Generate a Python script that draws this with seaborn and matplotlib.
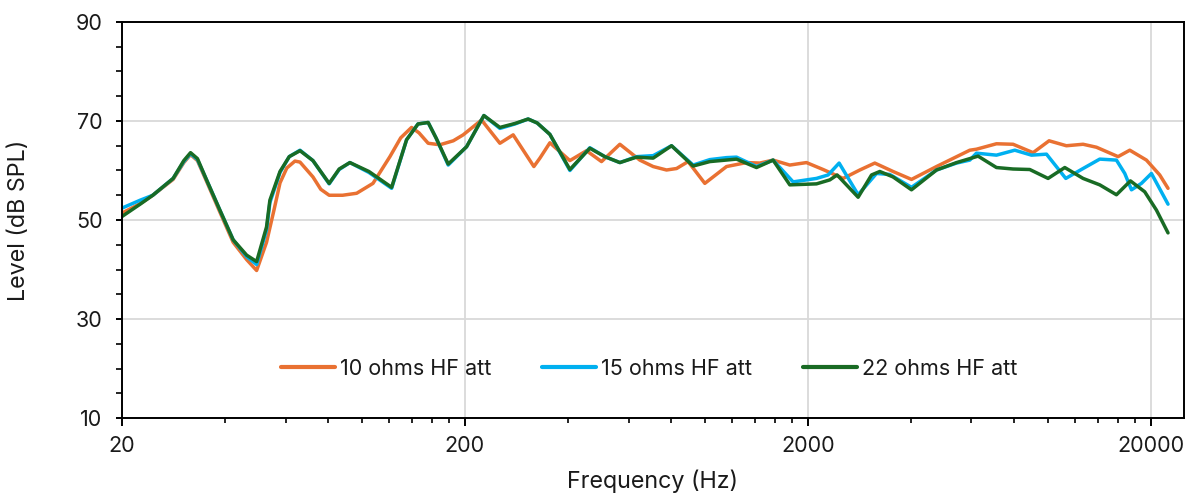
import numpy as np
import pandas as pd
import matplotlib
matplotlib.use("Agg")
import matplotlib.pyplot as plt
from matplotlib.ticker import FixedLocator, NullFormatter
from matplotlib.lines import Line2D
import seaborn as sns

# ---- data ----
series_names = ["10 ohms HF att", "15 ohms HF att", "22 ohms HF att"]

freq_10 = [20, 22.6, 24.6, 28.2, 30.3, 31.7, 33.2, 35.3, 38.6, 42.2, 46.2, 49.4, 52.8, 55.5, 57.8,
           60.5, 63.9, 66.1, 72.1, 76.0, 80.4, 88.0, 96.7, 107.9, 120.9, 130.0, 139.8, 147.0,
           156.3, 169.1, 185.0, 197.7, 223.7,
           253, 276.6, 317.8, 331, 353.9, 404.8, 452.6, 500.6, 566.2, 647.4, 708, 774.6,
           828.6, 895.4, 1001.6, 1158.8, 1325, 1449, 1584, 1772, 1982, 2216, 2535, 2836,
           3136, 3545, 4012, 4746, 5935, 6206, 7098, 7936, 9078, 10106, 11350, 12696,
           13890, 16060, 17374, 19430, 21243, 22460]
level_10 = [51.4, 53.3, 55.0, 58.2, 61.6, 63.2, 62.0, 57.8, 51.6, 45.5, 42.0, 39.8, 45.5, 52.0, 57.5,
            60.5, 61.9, 61.7, 58.7, 56.2, 55.0, 55.0, 55.4, 57.4, 62.8, 66.6, 68.7, 67.6,
            65.5, 65.2, 66.0, 67.2, 70.2,
            65.5, 67.2, 60.8, 62.5, 65.6, 62.0, 64.0, 61.8, 65.3, 62.1, 60.8, 60.1,
            60.4, 61.8, 57.4, 60.8, 61.6, 61.5, 62.1, 61.1, 61.6, 60.2, 58.4, 60.1,
            61.5, 59.8, 58.2, 60.8, 64.1, 64.3, 65.4, 65.3, 63.6, 66.0, 65.0, 65.3,
            64.7, 62.8, 64.1, 62.1, 59.1, 56.4]

freq_15 = [20, 22.6, 24.6, 28.2, 30.3, 31.7, 33.2, 35.3, 38.6, 42.2, 46.2, 49.4, 52.8, 54.0,
           57.8, 61.5, 66.1, 72.1, 80.4, 86.0, 92.4, 105.0, 122.3, 135.2, 146.0, 156.3, 165.0,
           178.8, 202.3, 227.2, 253, 280.0, 305.8, 325.0,
           353.9, 404.8, 462.8, 511.8, 566.2, 633.4, 708, 801, 926, 1035.8, 1158.8, 1239,
           1417, 1584, 1812, 2120, 2292, 2468, 2804, 3172, 3468, 4012, 4746, 5429, 5935,
           6206, 7098, 8028, 8980, 9932, 11305, 12696, 14202, 15886, 16800, 17572, 18790,
           20092, 22460]
level_15 = [52.4, 54.0, 55.0, 58.4, 61.8, 63.4, 62.2, 58.1, 52.0, 46.0, 42.6, 41.0, 48.0, 53.5,
            59.6, 62.8, 64.1, 62.0, 57.3, 60.2, 61.6, 59.6, 56.4, 66.2, 69.4, 69.7, 66.5,
            61.1, 64.8, 71.1, 68.5, 69.4, 70.4, 69.6,
            67.3, 60.0, 64.6, 62.8, 61.6, 62.8, 63.0, 65.0, 61.1, 62.2, 62.6, 62.7,
            60.8, 62.1, 57.7, 58.4, 59.1, 61.5, 55.1, 59.4, 59.2, 56.6, 60.1, 61.5, 62.1,
            63.5, 63.1, 64.1, 63.1, 63.3, 58.4, 60.4, 62.3, 62.1, 59.4, 56.1, 57.4,
            59.4, 53.2]

freq_22 = [20, 22.6, 24.6, 28.2, 30.3, 31.7, 33.2, 35.3, 38.6, 42.2, 46.2, 49.4, 52.8, 54.0,
           57.8, 61.5, 66.1, 72.1, 80.4, 86.0, 92.4, 105.0, 122.3, 135.2, 146.0, 156.3, 165.0,
           178.8, 202.3, 227.2, 253, 280.0, 305.8, 325.0,
           353.9, 404.8, 462.8, 511.8, 566.2, 633.4, 708, 801, 926, 1035.8, 1239, 1417,
           1584, 1772, 2120, 2318, 2435, 2804, 3068, 3243, 3545, 4012, 4746, 5429, 6274,
           7098, 7936, 8877, 10038, 11230, 12696, 14202, 15886, 17450, 19208, 20780, 22460]
level_22 = [50.7, 53.2, 55.0, 58.4, 62.0, 63.6, 62.4, 58.1, 52.0, 46.0, 42.9, 41.6, 48.6, 54.0,
            59.8, 62.8, 64.0, 62.0, 57.4, 60.3, 61.6, 59.8, 56.6, 66.2, 69.4, 69.7, 66.5,
            61.3, 64.8, 71.1, 68.7, 69.5, 70.4, 69.6,
            67.3, 60.2, 64.5, 62.8, 61.6, 62.7, 62.5, 65.0, 60.9, 61.8, 62.3, 60.6,
            62.1, 57.1, 57.3, 58.1, 59.1, 54.6, 59.1, 59.8, 58.7, 56.1, 60.1, 61.6, 62.9,
            60.6, 60.3, 60.2, 58.4, 60.6, 58.4, 57.1, 55.1, 57.9, 55.7, 52.0, 47.4]

x_tick_values = [20, 200, 2000, 20000]
x_tick_labels = ["20", "200", "2000", "20000"]
y_tick_values = [10, 30, 50, 70, 90]

colors = ["#E97132", "#00B0F0", "#196B24"]

# ---- build long table ----
frames = []
for name, f, lv in zip(series_names, [freq_10, freq_15, freq_22], [level_10, level_15, level_22]):
    frames.append(pd.DataFrame({"Frequency": f, "Level": lv, "Series": name}))
df = pd.concat(frames, ignore_index=True)

sns.set_theme(style="white")
plt.rcParams["font.family"] = ["Inter", "DejaVu Sans"]

fig, ax = plt.subplots(figsize=(11.91, 4.94), dpi=100)
fig.subplots_adjust(left=0.1024, right=0.9941, top=0.9555, bottom=0.1538)

sns.lineplot(data=df, x="Frequency", y="Level", hue="Series", hue_order=series_names,
             palette=colors, linewidth=2.5, sort=False, estimator=None, ax=ax,
             legend=False)
for ln in ax.get_lines():
    ln.set_solid_joinstyle("round")
    ln.set_solid_capstyle("round")

ax.set_xscale("log")
ax.set_xlim(20, 25000)
ax.set_ylim(10, 90)

ax.xaxis.set_major_locator(FixedLocator(x_tick_values))
ax.set_xticklabels(x_tick_labels)
minor_x = [b * k for b in [20, 200, 2000, 20000] for k in range(2, 10) if b * k < 25000]
ax.xaxis.set_minor_locator(FixedLocator(minor_x))
ax.xaxis.set_minor_formatter(NullFormatter())

ax.yaxis.set_major_locator(FixedLocator(y_tick_values))
ax.yaxis.set_minor_locator(FixedLocator([v for v in range(15, 90, 5) if v not in y_tick_values]))

ax.grid(True, which="major", color="#D9D9D9", linewidth=1.3)
ax.set_axisbelow(True)

for s in ax.spines.values():
    s.set_visible(True)
    s.set_color("black")
    s.set_linewidth(1.4)

ax.tick_params(axis="x", which="major", direction="out", length=6, width=1.4,
               color="black", labelsize=15.5, pad=7, labelcolor="#1a1a1a")
ax.tick_params(axis="x", which="minor", direction="out", length=3.5, width=1.2, color="black")
ax.tick_params(axis="y", which="major", direction="out", length=4, width=1.4,
               color="black", labelsize=15.5, pad=10, labelcolor="#1a1a1a")
ax.tick_params(axis="y", which="minor", direction="out", length=4, width=1.2, color="black")
ax.tick_params(bottom=True, left=True, which="both")

ax.set_xlabel("Frequency (Hz)", fontsize=16.8, color="#1a1a1a")
ax.set_ylabel("Level (dB SPL)", fontsize=16.8, color="#1a1a1a")
ax.xaxis.set_label_coords(0.5, -0.159)
ax.xaxis.label.set_verticalalignment("center")
ax.yaxis.set_label_coords(-0.097, 0.5)
ax.yaxis.label.set_verticalalignment("center")

handles = [Line2D([0], [0], color=c, linewidth=3) for c in colors]
ax.legend(handles, series_names, loc="center", bbox_to_anchor=(0.4965, 0.124), ncol=3,
          frameon=False, fontsize=15.5, handlelength=2.5, handletextpad=0.25,
          columnspacing=2.35, labelcolor="#1a1a1a")

fig.savefig("out.png", dpi=100)
